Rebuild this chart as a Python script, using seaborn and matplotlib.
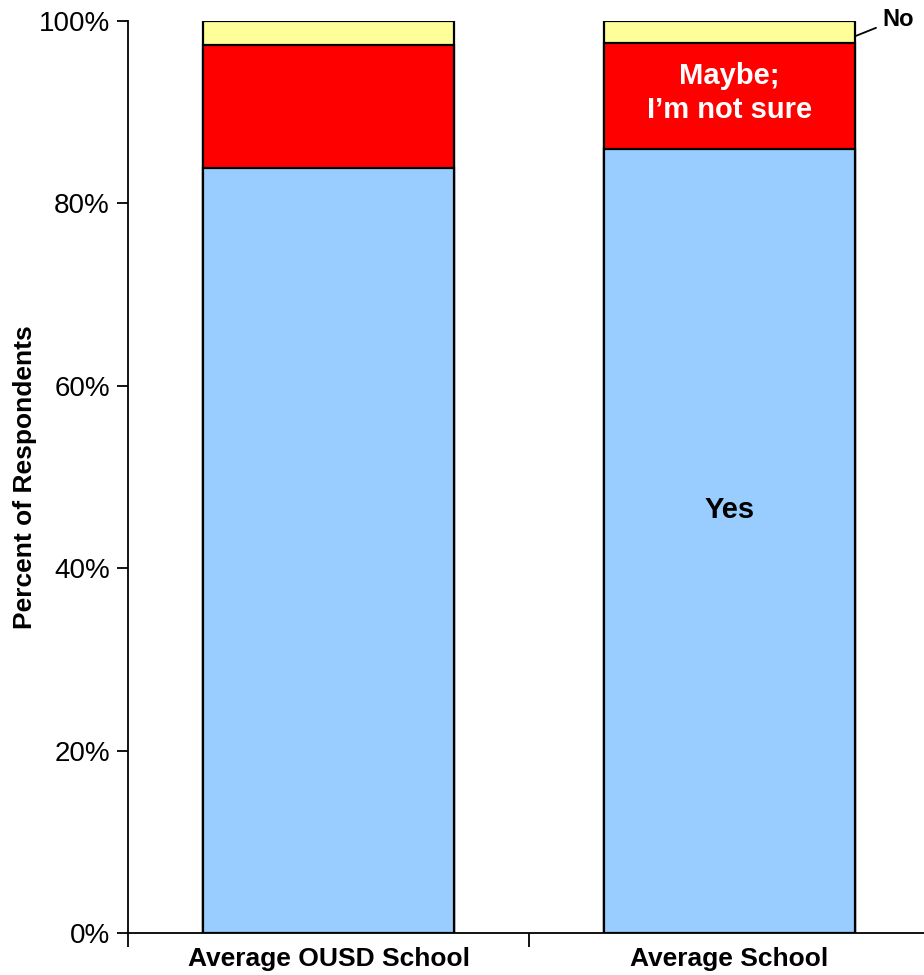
import matplotlib
matplotlib.use("Agg")
import matplotlib.pyplot as plt
import seaborn as sns
import pandas as pd
import numpy as np

# Survey responses, percent of respondents per group
groups = ["Average OUSD School", "Average School"]
yes = [83.9, 86.0]
maybe = [13.5, 11.6]
no = [2.6, 2.4]

colors = {"Yes": "#99CCFF", "Maybe": "#FF0000", "No": "#FFFF99"}

sns.set_style("ticks")
plt.rcParams["font.family"] = ["Liberation Sans", "DejaVu Sans"]
for key in ["text.color", "axes.labelcolor", "xtick.color", "ytick.color",
            "axes.edgecolor"]:
    plt.rcParams[key] = "black"

df = pd.DataFrame({"group": groups, "yes": yes, "maybe": maybe, "no": no})
df["yes_maybe"] = df["yes"] + df["maybe"]
df["total"] = df["yes_maybe"] + df["no"]

fig = plt.figure(figsize=(9.24, 9.75), dpi=100)
ax = fig.add_axes([128 / 924, 42 / 975, 802 / 924, 912 / 975])

# Stacked bars drawn as overlapping cumulative totals, top segment first
bar_kw = dict(x="group", order=groups, width=0.625, edgecolor="black",
              linewidth=1.6, ax=ax, errorbar=None)
sns.barplot(data=df, y="total", color=colors["No"], saturation=1, **bar_kw)
sns.barplot(data=df, y="yes_maybe", color=colors["Maybe"], saturation=1, **bar_kw)
sns.barplot(data=df, y="yes", color=colors["Yes"], saturation=1, **bar_kw)

ax.set_xlim(-0.5, 1.5)
ax.set_ylim(0, 100)
ax.set_yticks(np.arange(0, 101, 20))
ax.set_yticklabels([f"{v}%" for v in range(0, 101, 20)], fontsize=20)
ax.tick_params(axis="y", length=8, width=1.3, direction="out", pad=5)

# Category ticks sit on the boundaries between groups
ax.set_xticks([-0.5, 0.5, 1.5], minor=False)
ax.set_xticklabels(["", "", ""])
ax.tick_params(axis="x", length=10, width=1.3, direction="out")
ax.set_xticks([0, 1], minor=True)
ax.set_xticklabels(groups, minor=True, fontsize=19, fontweight="bold")
ax.tick_params(axis="x", which="minor", length=0, pad=10)

ax.set_xlabel("")
ax.set_ylabel("Percent of Respondents", fontsize=19, fontweight="bold", labelpad=1)

for side in ["top", "right"]:
    ax.spines[side].set_visible(False)
ax.spines["left"].set_linewidth(1.3)
ax.spines["bottom"].set_linewidth(1.3)
ax.spines["bottom"].set_clip_on(False)

# Segment labels on the second bar
ax.text(1, 46.4, "Yes", ha="center", va="center",
        fontsize=21, fontweight="bold", color="black")
ax.text(1, 92.1, "Maybe;\nI\u2019m not sure", ha="center",
        va="center", fontsize=21, fontweight="bold", color="white",
        linespacing=1.3)
ax.annotate("No", xy=(1.3125, yes[1] + maybe[1] + no[1] * 0.3),
            xytext=(1.38, 100.2), ha="left", va="center",
            fontsize=17, fontweight="bold", color="black",
            arrowprops=dict(arrowstyle="-", color="black", lw=1.3,
                            shrinkA=2, shrinkB=0),
            annotation_clip=False)

fig.savefig("out.png", dpi=100)
